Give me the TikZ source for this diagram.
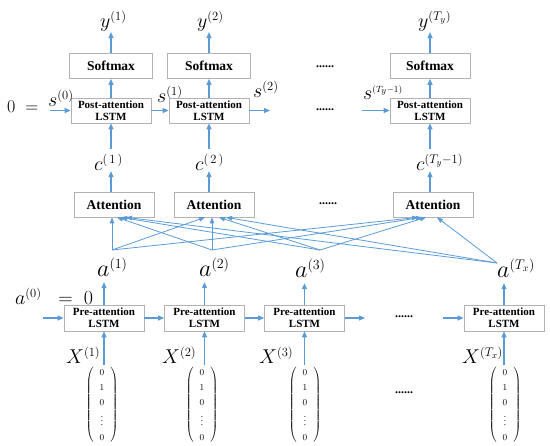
\RequirePackage{fix-cm}
\documentclass[tikz,border=0pt]{standalone}
\usepackage{amsmath,amssymb}
\usepackage{fontspec}
\setmainfont{Liberation Serif}
\usepackage{tikz}
\usepackage{xcolor}
\usetikzlibrary{positioning,calc,arrows.meta}
\definecolor{linkblue}{RGB}{91,155,213}
\DeclareMathSizes{18}{18}{12}{9}
\DeclareMathSizes{20}{20}{12.5}{9}
\DeclareMathSizes{24}{24}{14}{10}

\begin{document}
\begin{tikzpicture}[
    x=1pt, y=-1pt,
    block/.style={rectangle, draw=gray!60, line width=0.7pt, fill=white, minimum width=80pt, minimum height=25pt, align=center, inner sep=1pt},
    single/.style={block, font=\bfseries\fontsize{13.5}{15}\selectfont},
    lstm/.style={block, font=\bfseries\fontsize{11}{12}\selectfont},
    var/.style={inner sep=0pt, anchor=base west, font=\fontsize{20}{20}\selectfont},
    bigvar/.style={var, font=\fontsize{24}{24}\selectfont},
    vec/.style={inner sep=0pt, font=\fontsize{9}{15}\selectfont},
    dots/.style={font=\bfseries\fontsize{12}{12}\selectfont},
    edge/.style={-{Triangle[length=6pt, width=5pt]}, linkblue, line width=1.1pt},
    link/.style={-{Triangle[length=6pt, width=4.5pt]}, linkblue, line width=0.8pt},
]
\useasboundingbox (0,0) rectangle (550,446);

% decoder
\node[single, minimum width=83pt] (sm1) at (111,66) {Softmax};
\node[single, minimum width=83pt] (sm2) at (209,66) {Softmax};
\node[single, minimum width=80pt] (sm3) at (430,66) {Softmax};
\node[lstm] (post1) at (111,110.5) {Post-attention\\LSTM};
\node[lstm] (post2) at (209,110.5) {Post-attention\\LSTM};
\node[lstm] (post3) at (430,110.5) {Post-attention\\LSTM};
\node[single] (att1) at (114,204.5) {Attention};
\node[single] (att2) at (214,204.5) {Attention};
\node[single] (att3) at (433,204.5) {Attention};

\node[var] (y1) at (100,28) {$y^{(1)}$};
\node[var] (y2) at (197,28) {$y^{(2)}$};
\node[var] (y3) at (418,28) {$y^{(T_y)}$};
\node[var] (c1) at (94,171) {$c^{(\,1\,)}$};
\node[var] (c2) at (195,171) {$c^{(\,2\,)}$};
\node[var] (c3) at (416,171) {$c^{(T_y-1)}$};
\node[var, font=\fontsize{18}{18}\selectfont] (zero) at (7,113) {$0\;=$};
\node[var] (s0) at (48,107) {$s^{(0)}$};
\node[var] (s1) at (157,103) {$s^{(1)}$};
\node[var] (s2) at (253,98) {$s^{(2)}$};
\node[var] (s3) at (363,100) {$s^{\scriptscriptstyle(T_y-1)}$};

\node[dots] (dt1) at (325,67) {......};
\node[dots] (dt2) at (325,110) {......};
\node[dots] (dt3) at (328,204) {......};

\coordinate (sin) at (50,110.5);
\coordinate (sout) at (270,110.5);
\coordinate (slast) at (362,110.5);

\draw[edge] (sm1) -- (sm1.north |- y1.south);
\draw[edge] (sm2) -- (sm2.north |- y2.south);
\draw[edge] (sm3) -- (sm3.north |- y3.south);
\draw[edge] (post1) -- (sm1);
\draw[edge] (post2) -- (sm2);
\draw[edge] (post3) -- (sm3);
\draw[edge] (sin) -- (post1);
\draw[edge] (post1) -- (post2);
\draw[edge] (post2) -- (sout);
\draw[edge] (slast) -- (post3);
\draw[edge] ([yshift=5pt]c1.north -| post1) -- (post1.south);
\draw[edge] ([yshift=5pt]c2.north -| post2) -- (post2.south);
\draw[edge] ([yshift=5pt]c3.north -| post3) -- (post3.south);
\draw[edge] (att1.north -| post1) -- (c1.south -| post1);
\draw[edge] (att2.north -| post2) -- (c2.south -| post2);
\draw[edge] (att3.north -| post3) -- (c3.south -| post3);

% encoder
\node[lstm, minimum height=26pt] (pre1) at (104,318) {Pre-attention\\LSTM};
\node[lstm, minimum height=26pt] (pre2) at (204.5,318) {Pre-attention\\LSTM};
\node[lstm, minimum height=26pt] (pre3) at (304.5,318) {Pre-attention\\LSTM};
\node[lstm, minimum height=26pt] (pre4) at (504,318) {Pre-attention\\LSTM};

\node[bigvar] (a1) at (97,277) {$a^{(1)}$};
\node[bigvar] (a2) at (199,277) {$a^{(2)}$};
\node[bigvar] (a3) at (295,278) {$a^{(3)}$};
\node[bigvar] (a4) at (497,278) {$a^{(T_x)}$};
\node[var] (a0) at (15,305) {$a^{(0)}\;\;=\;0$};

\node[var] (x1) at (66,364) {$X^{(1)}$};
\node[var] (x2) at (162,364) {$X^{(2)}$};
\node[var] (x3) at (259,364) {$X^{(3)}$};
\node[var] (x4) at (462,364) {$X^{(T_x)}$};

\node[vec] (v1) at (102,405) {$\arraycolsep=6pt\left(\begin{array}{c}0\\1\\0\\\vdots\\0\end{array}\right)$};
\node[vec] (v2) at (202,405) {$\arraycolsep=6pt\left(\begin{array}{c}0\\1\\0\\\vdots\\0\end{array}\right)$};
\node[vec] (v3) at (305,405) {$\arraycolsep=6pt\left(\begin{array}{c}0\\1\\0\\\vdots\\0\end{array}\right)$};
\node[vec] (v4) at (505,405) {$\arraycolsep=6pt\left(\begin{array}{c}0\\1\\0\\\vdots\\0\end{array}\right)$};

\node[dots] (dt4) at (404,317) {......};
\node[dots] (dt5) at (404,393) {......};

\coordinate (ain) at (43,318);
\coordinate (aout) at (365,318);
\coordinate (alast) at (443,318);

\draw[edge] (ain) -- (pre1);
\draw[edge] (pre1) -- (pre2);
\draw[edge] (pre2) -- (pre3);
\draw[edge] (pre3) -- (aout);
\draw[edge] (alast) -- (pre4);
\draw[edge] (v1.north -| pre1) -- (pre1.south);
\draw[edge] (v2.north -| pre2) -- (pre2.south);
\draw[edge] (v3.north -| pre3) -- (pre3.south);
\draw[edge] (v4.north -| pre4) -- (pre4.south);
\draw[edge, shorten >=5pt] (pre1.north) -- (pre1.north |- a1.south);
\draw[edge, shorten >=5pt] (pre2.north) -- (pre2.north |- a2.south);
\draw[edge, shorten >=5pt] (pre3.north) -- (pre3.north |- a3.south);
\draw[edge, shorten >=5pt] (pre4.north) -- (pre4.north |- a4.south);

% attention inputs
\coordinate (t1) at (112,250);
\coordinate (t2) at (212,250);
\coordinate (t3) at (320,250);
\coordinate (t4) at (497,263);

\draw[link] (t1) -- ($(att1.south)+(-2,0)$);
\draw[link] (t2) -- ($(att1.south)+(3,0)$);
\draw[link] (t3) -- ($(att1.south)+(7,0)$);
\draw[link] (t4) -- ($(att1.south)+(12,0)$);
\draw[link] (t1) -- ($(att2.south)+(-9,0)$);
\draw[link] (t2) -- ($(att2.south)+(-2,0)$);
\draw[link] (t3) -- ($(att2.south)+(5,0)$);
\draw[link] (t4) -- ($(att2.south)+(12,0)$);
\draw[link] (t1) -- ($(att3.south)+(-15,0)$);
\draw[link] (t2) -- ($(att3.south)+(-11,0)$);
\draw[link] (t3) -- ($(att3.south)+(-7,0)$);
\draw[link] (t4) -- ($(att3.south)+(4,0)$);

\end{tikzpicture}
\end{document}
